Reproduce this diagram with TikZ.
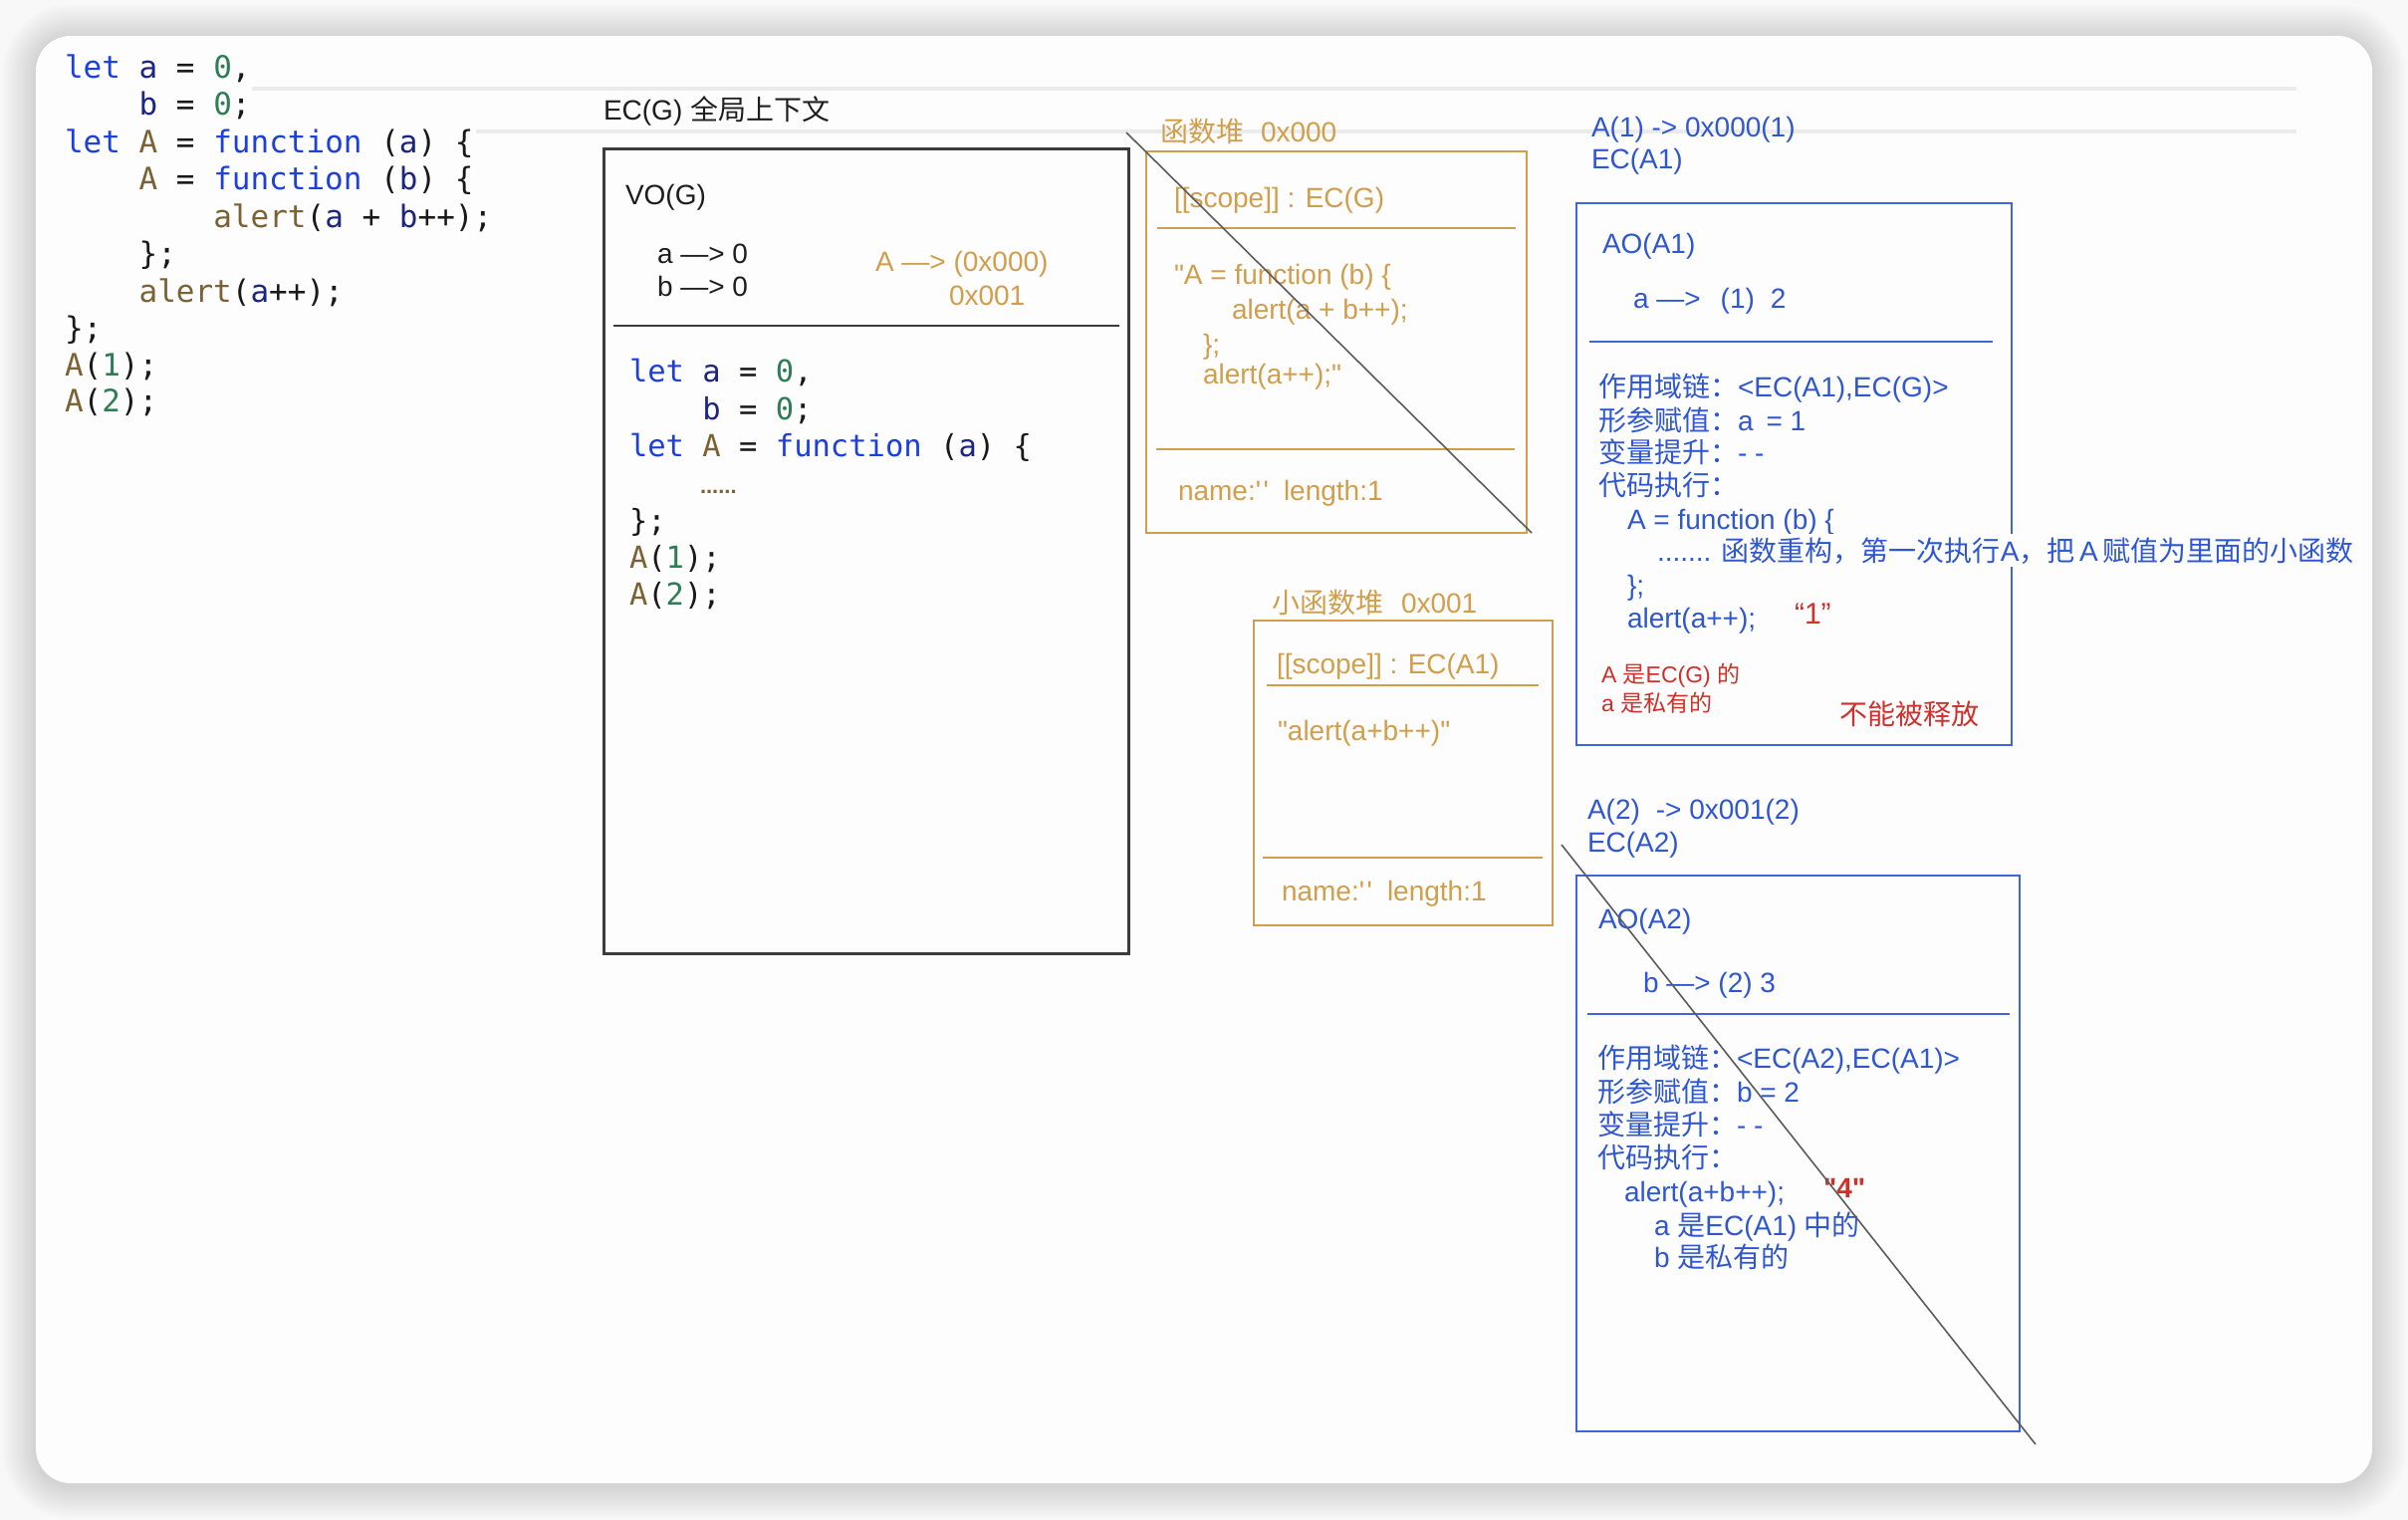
\documentclass[tikz,border=0pt]{standalone}
\usepackage{fontspec}
\setmainfont{Liberation Sans}[Ligatures=TeXOff]
\newfontfamily\cjk{Noto Sans CJK SC}
\newfontfamily\codefont{DejaVu Sans Mono}
\newcommand\zh[1]{{\cjk #1}}
% two separate straight ticks
\newcommand\ticks{'\kern2.5pt'}

\definecolor{inkc}{HTML}{1E1E1E}
\definecolor{frame}{HTML}{3C3C3C}
\definecolor{goldc}{HTML}{D19E4C}
\definecolor{bluec}{HTML}{2F57D2}
\definecolor{bluebd}{HTML}{3E66DA}
\definecolor{redc}{HTML}{D12F2A}
\definecolor{strikec}{HTML}{5C5C5C}
\definecolor{guide}{HTML}{EBEBEB}
\definecolor{codekw}{HTML}{1D40DC}
\definecolor{codevar}{HTML}{1C2580}
\definecolor{codefn}{HTML}{7A6234}
\definecolor{codenum}{HTML}{2E7D56}
\definecolor{card}{HTML}{FDFDFD}
\definecolor{pagebg}{HTML}{F8F8F8}

% syntax colouring for the code listings
\newcommand\ckw[1]{\textcolor{codekw}{#1}}
\newcommand\cvar[1]{\textcolor{codevar}{#1}}
\newcommand\cfn[1]{\textcolor{codefn}{#1}}
\newcommand\cnum[1]{\textcolor{codenum}{#1}}

\tikzset{
  lbl/.style={anchor=base west, inner sep=0pt, outer sep=0pt, font=\fontsize{28}{33}\selectfont},
  ink/.style={lbl, text=inkc},
  gold/.style={lbl, text=goldc},
  blu/.style={lbl, text=bluec},
  redt/.style={lbl, text=redc},
  redsmall/.style={redt, font=\fontsize{23}{27}\selectfont},
  code/.style={anchor=base west, inner sep=0pt, outer sep=0pt, text=black!90, font=\codefont\fontsize{31}{37}\selectfont},
  codeb/.style={code, font=\codefont\fontsize{30.5}{37}\selectfont},
  vobox/.style={draw=frame, line width=2.6pt, inner sep=0pt, anchor=north west},
  heapbox/.style={draw=goldc, line width=2.4pt, inner sep=0pt, anchor=north west},
  aobox/.style={draw=bluebd, line width=2.4pt, inner sep=0pt, anchor=north west},
  vosep/.style={draw=frame, line width=2.4pt},
  heapsep/.style={draw=goldc, line width=2pt},
  aosep/.style={draw=bluebd, line width=2pt},
  strike/.style={draw=strikec, line width=1.6pt},
  guideline/.style={draw=guide, line width=4pt},
}

\begin{document}
\begin{tikzpicture}[x=1pt, y=-1pt]
\useasboundingbox (0,0) rectangle (2418,1526);

% page and card with a soft shadow
\fill[pagebg] (0,0) rectangle (2418,1526);
\foreach \i in {1,...,12} {
  \pgfmathsetmacro\grow{\i*2.8}
  \pgfmathsetmacro\rad{35+\grow}
  \fill[black, opacity=0.013, rounded corners=\rad pt]
    ({36-\grow},{38-\grow}) rectangle ({2382+\grow},{1491+\grow});
}
\fill[card, rounded corners=35pt] (36,36) rectangle (2382,1489);

% faint ruling lines
\draw[guideline] (253,89) -- (2306,89);
\draw[guideline] (478,132) -- (2306,132);

% ---------- source listing ----------
\node[code] (src1)  at (65,78)    {\ckw{let} \cvar{a} = \cnum{0},};
\node[code] (src2)  at (139.6,115) {\cvar{b} = \cnum{0};};
\node[code] (src3)  at (65,153)   {\ckw{let} \cfn{A} = \ckw{function} (\cvar{a}) \{};
\node[code] (src4)  at (139.6,190) {\cfn{A} = \ckw{function} (\cvar{b}) \{};
\node[code] (src5)  at (214.3,228) {\cfn{alert}(\cvar{a} + \cvar{b}++);};
\node[code] (src6)  at (139.6,265) {\};};
\node[code] (src7)  at (139.6,303) {\cfn{alert}(\cvar{a}++);};
\node[code] (src8)  at (65,340)   {\};};
\node[code] (src9)  at (65,377)   {\cfn{A}(\cnum{1});};
\node[code] (src10) at (65,413)   {\cfn{A}(\cnum{2});};

% ---------- global context ----------
\node[ink] (ecg) at (606,120) {EC(G) \zh{全局上下文}};
\node[vobox, minimum width=527pt, minimum height=808pt] (vog) at (605,148) {};
\node[ink] (vot) at (628,205) {VO(G)};
\node[ink] (vara) at (660,264) {a —> 0};
\node[ink] (varb) at (660,297) {b —> 0};
\node[gold] (varA) at (879,272) {A —> (0x000)};
\node[gold] (varA2) at (953,306) {0x001};
\draw[vosep] (616,327) -- (1124,327);

\node[codeb] (g1) at (632,383)   {\ckw{let} \cvar{a} = \cnum{0},};
\node[codeb] (g2) at (705.4,421) {\cvar{b} = \cnum{0};};
\node[codeb] (g3) at (632,458)   {\ckw{let} \cfn{A} = \ckw{function} (\cvar{a}) \{};
\node[lbl, text=codefn, font=\fontsize{22}{22}\selectfont\bfseries] (g4) at (703,495) {......};
\node[codeb] (g5) at (632,533)   {\};};
\node[codeb] (g6) at (632,570)   {\cfn{A}(\cnum{1});};
\node[codeb] (g7) at (632,607)   {\cfn{A}(\cnum{2});};

% ---------- heap 0x000 ----------
\node[gold] (h0t) at (1165,142) {\zh{函数堆}\hspace{17pt}0x000};
\node[heapbox, minimum width=382pt, minimum height=383pt] (heap0) at (1150,151) {};
\node[gold] (h0s) at (1179,208) {[[scope]] : EC(G)};
\draw[heapsep] (1162,229) -- (1522,229);
\node[gold] (h0c1) at (1179,285) {"A = function (b) \{};
\node[gold] (h0c2) at (1237,320) {alert(a + b++);};
\node[gold] (h0c3) at (1208,355) {\};};
\node[gold] (h0c4) at (1208,385) {alert(a++);"};
\draw[heapsep] (1161,451) -- (1521,451);
\node[gold] (h0n) at (1183,502) {name:\ticks\hspace{15pt}length:1};
\coordinate (x0a) at (1131,133);
\coordinate (x0b) at (1538,535);
\draw[strike] (x0a) -- (x0b);

% ---------- heap 0x001 ----------
\node[gold] (h1t) at (1277,615) {\zh{小函数堆}\hspace{18pt}0x001};
\node[heapbox, minimum width=300pt, minimum height=306pt] (heap1) at (1258,622) {};
\node[gold] (h1s) at (1282,676) {[[scope]] : EC(A1)};
\draw[heapsep] (1272,688) -- (1545,688);
\node[gold] (h1c) at (1283,743) {"alert(a+b++)"};
\draw[heapsep] (1268,861) -- (1549,861);
\node[gold] (h1n) at (1287,904) {name:\ticks\hspace{15pt}length:1};

% ---------- first call ----------
\node[blu] (call1) at (1598,137) {A(1) -> 0x000(1)};
\node[blu] (ec1) at (1598,169) {EC(A1)};
\node[aobox, minimum width=437pt, minimum height=544pt] (ao1) at (1582,203) {};
\node[blu] (ao1t) at (1609,254) {AO(A1)};
\node[blu] (ao1a) at (1640,309) {a —>\hspace{20pt}(1)\hspace{16pt}2};
\draw[aosep] (1596,343) -- (2001,343);
\node[blu] (ao1l1) at (1605,398) {\zh{作用域链：}<EC(A1),EC(G)>};
\node[blu] (ao1l2) at (1605,432) {\zh{形参赋值：}a\hspace{13pt}= 1};
\node[blu] (ao1l3) at (1605,464) {\zh{变量提升：}- -};
\node[blu] (ao1l4) at (1605,497) {\zh{代码执行：}};
\node[blu] (ao1c1) at (1634,531) {A = function (b) \{};
\node[blu, fill=card, inner ysep=3pt] (ao1c2) at (1664,563)
  {....... \zh{函数重构，第一次执行}A\zh{，把}\,A\,\zh{赋值为里面的小函数}};
\node[blu] (ao1c3) at (1634,597) {\};};
\node[blu] (ao1c4) at (1634,630) {alert(a++);};
\node[redt, font=\fontsize{30}{33}\selectfont] (ao1r) at (1802,626) {“1”};
\node[redsmall] (ao1n1) at (1608,685) {A \zh{是}EC(G) \zh{的}};
\node[redsmall] (ao1n2) at (1608,714) {a \zh{是私有的}};
\node[redt] (ao1keep) at (1847,727) {\zh{不能被释放}};

% ---------- second call ----------
\node[blu] (call2) at (1594,822) {A(2)\hspace{16pt}-> 0x001(2)};
\node[blu] (ec2) at (1594,855) {EC(A2)};
\node[aobox, minimum width=445pt, minimum height=558pt] (ao2) at (1582,878) {};
\node[blu] (ao2t) at (1605,932) {AO(A2)};
\node[blu] (ao2b) at (1650,996) {b —> (2) 3};
\draw[aosep] (1594,1018) -- (2018,1018);
\node[blu] (ao2l1) at (1604,1072) {\zh{作用域链：}<EC(A2),EC(A1)>};
\node[blu] (ao2l2) at (1604,1106) {\zh{形参赋值：}b = 2};
\node[blu] (ao2l3) at (1604,1139) {\zh{变量提升：}- -};
\node[blu] (ao2l4) at (1604,1172) {\zh{代码执行：}};
\node[blu] (ao2c1) at (1631,1206) {alert(a+b++);};
\node[redt, font=\fontsize{28}{33}\selectfont\bfseries] (ao2r) at (1831,1202) {"4"};
\node[blu] (ao2n1) at (1661,1240) {a \zh{是}EC(A1) \zh{中的}};
\node[blu] (ao2n2) at (1661,1272) {b \zh{是私有的}};
\coordinate (x1a) at (1568,848);
\coordinate (x1b) at (2044,1450);
\draw[strike] (x1a) -- (x1b);

\end{tikzpicture}
\end{document}
